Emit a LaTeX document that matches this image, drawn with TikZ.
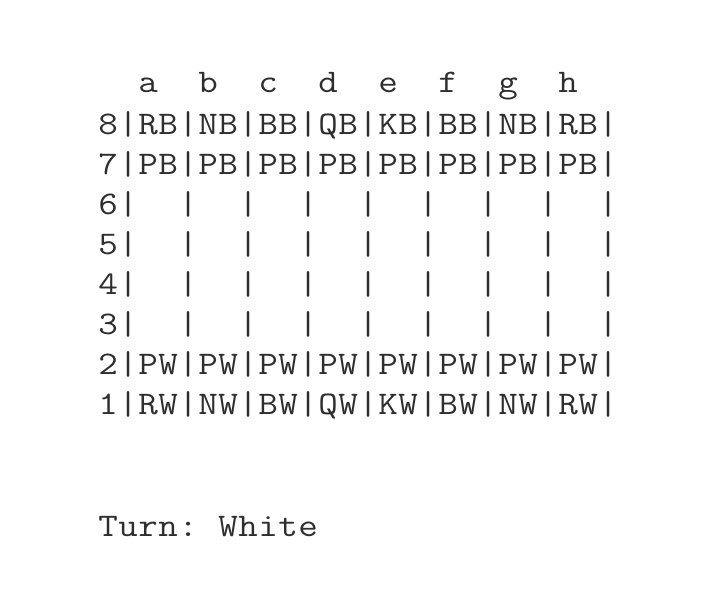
\documentclass[tikz,border=0pt]{standalone}
\usepackage{fontspec}
\definecolor{txt}{HTML}{2E2E2E}
\makeatletter
\def\cells#1{\cells@a#1\relax}
\def\cells@a#1{\ifx#1\relax\else
  \ifx#1.\makebox[20pt]{}\else\makebox[20pt][c]{\scalebox{1.15}[1]{#1}}\fi
  \expandafter\cells@a\fi}
\makeatother
\begin{document}
\begin{tikzpicture}[x=1pt,y=1pt,
  boardline/.style={anchor=base west, inner sep=0pt, font=\ttfamily\fontsize{33}{40}\selectfont, text=txt}]
\useasboundingbox[fill=white] (0,0) rectangle (708,601);
\node[boardline] (hdr) at (98,508) {\cells{..a..b..c..d..e..f..g..h}};
\node[boardline] (r8) at (98,466) {\cells{8|RB|NB|BB|QB|KB|BB|NB|RB|}};
\node[boardline] (r7) at (98,426) {\cells{7|PB|PB|PB|PB|PB|PB|PB|PB|}};
\node[boardline] (r6) at (98,386) {\cells{6|..|..|..|..|..|..|..|..|}};
\node[boardline] (r5) at (98,346) {\cells{5|..|..|..|..|..|..|..|..|}};
\node[boardline] (r4) at (98,306) {\cells{4|..|..|..|..|..|..|..|..|}};
\node[boardline] (r3) at (98,266) {\cells{3|..|..|..|..|..|..|..|..|}};
\node[boardline] (r2) at (98,226) {\cells{2|PW|PW|PW|PW|PW|PW|PW|PW|}};
\node[boardline] (r1) at (98,186) {\cells{1|RW|NW|BW|QW|KW|BW|NW|RW|}};
\node[boardline] (turn) at (98,64) {\cells{Turn:.White}};
\end{tikzpicture}
\end{document}
